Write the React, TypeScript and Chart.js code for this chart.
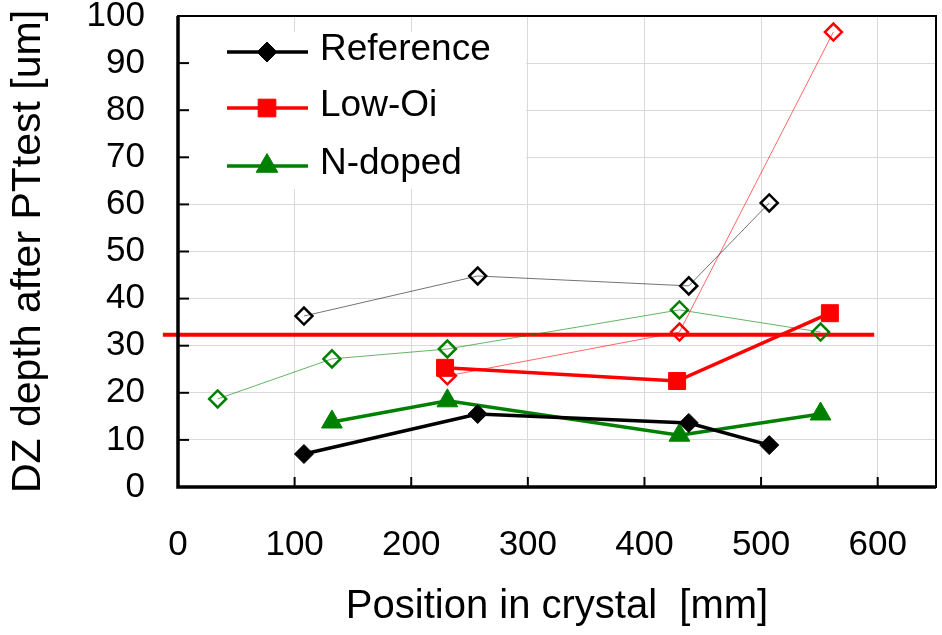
import React, { useEffect, useRef } from "react";
import { Chart, registerables } from "chart.js";

Chart.register(...registerables);

// ---- data ----
const refX = [108, 257, 438, 507];
const refY = [7.0, 15.5, 13.6, 8.9];
const refOpenX = [108, 257, 438, 507];
const refOpenY = [36.3, 44.8, 42.7, 60.3];
const lowOiX = [229, 428, 559];
const lowOiY = [25.3, 22.5, 36.9];
const lowOiOpenX = [231, 430, 562];
const lowOiOpenY = [23.6, 32.9, 96.6];
const nDopedX = [132, 231, 430, 551];
const nDopedY = [13.8, 18.3, 11.0, 15.5];
const nDopedOpenX = [34, 132, 231, 430, 551];
const nDopedOpenY = [18.7, 27.2, 29.3, 37.6, 32.9];
const limitX = [-13, 597];
const limitY = [32.3, 32.3];

const xTickValues = [0, 100, 200, 300, 400, 500, 600];
const yTickValues = [0, 10, 20, 30, 40, 50, 60, 70, 80, 90, 100];
const legendLabels = ["Reference", "Low-Oi", "N-doped"];
const xTitle = "Position in crystal  [mm]";
const yTitle = "DZ depth after PTtest [um]";

const BLACK = "#000000";
const RED = "#ff0000";
const GREEN = "#008000";
const FONT = "'Liberation Sans', Arial, sans-serif";

const pts = (xs: number[], ys: number[]) => xs.map((x, i) => ({ x, y: ys[i] }));

function drawMarker(ctx: CanvasRenderingContext2D, style: string, x: number, y: number, r: number, color: string) {
  ctx.save();
  ctx.fillStyle = color;
  ctx.strokeStyle = color;
  ctx.lineWidth = 1;
  ctx.beginPath();
  if (style === "diamond") {
    ctx.moveTo(x, y - r);
    ctx.lineTo(x + r, y);
    ctx.lineTo(x, y + r);
    ctx.lineTo(x - r, y);
    ctx.closePath();
  } else if (style === "square") {
    const s = Math.SQRT1_2 * r;
    ctx.rect(x - s, y - s, 2 * s, 2 * s);
  } else {
    const a = (2 * Math.PI) / 3;
    ctx.moveTo(x, y - r);
    ctx.lineTo(x + Math.sin(a) * r, y - Math.cos(a) * r);
    ctx.lineTo(x + Math.sin(2 * a) * r, y - Math.cos(2 * a) * r);
    ctx.closePath();
  }
  ctx.fill();
  ctx.stroke();
  ctx.restore();
}

const framePlugin = {
  id: "frame",
  afterDraw(chart: any) {
    const { ctx, chartArea, scales } = chart;
    const { left, right, top, bottom } = chartArea;
    const xs = scales.x;
    const ys = scales.y;
    ctx.save();

    // legend box (white, covering the grid)
    ctx.fillStyle = "#ffffff";
    ctx.fillRect(left + 2, top + 16, 346, 157);
    const rowsY = [52, 108, 166];
    const colors = [BLACK, RED, GREEN];
    const styles = ["diamond", "square", "triangle"];
    const sizes = [10, 12.5, 12.5];
    legendLabels.forEach((label, i) => {
      const ly = rowsY[i];
      ctx.strokeStyle = colors[i];
      ctx.lineWidth = 3.5;
      ctx.beginPath();
      ctx.moveTo(227, ly);
      ctx.lineTo(308, ly);
      ctx.stroke();
      drawMarker(ctx, styles[i], 267, ly, sizes[i], colors[i]);
      ctx.fillStyle = BLACK;
      ctx.font = `37px ${FONT}`;
      ctx.textAlign = "left";
      ctx.textBaseline = "middle";
      ctx.fillText(label, 320, ly - 2);
    });

    // inward tick marks
    ctx.strokeStyle = BLACK;
    ctx.lineWidth = 2;
    yTickValues.forEach((v) => {
      if (v <= 0 || v >= 100) return;
      const py = ys.getPixelForValue(v);
      ctx.beginPath();
      ctx.moveTo(left, py);
      ctx.lineTo(left + 11, py);
      ctx.stroke();
    });
    xTickValues.forEach((v) => {
      if (v <= 0) return;
      const px = xs.getPixelForValue(v);
      ctx.beginPath();
      ctx.moveTo(px, bottom);
      ctx.lineTo(px, bottom - 10);
      ctx.stroke();
    });

    // frame
    ctx.lineWidth = 2;
    ctx.strokeRect(left, top, right - left, bottom - top);
    ctx.lineWidth = 3.5;
    ctx.beginPath();
    ctx.moveTo(left, top);
    ctx.lineTo(left, bottom);
    ctx.lineTo(right, bottom);
    ctx.stroke();
    ctx.restore();
  },
};

export default function App() {
  const canvasRef = useRef<HTMLCanvasElement | null>(null);

  useEffect(() => {
    const canvas = canvasRef.current;
    if (!canvas) return;

    const thinOpen = (label: string, xs: number[], ys: number[], color: string, lineColor: string) => ({
      label,
      data: pts(xs, ys),
      borderColor: lineColor,
      borderWidth: 1,
      pointStyle: "rectRot",
      pointRadius: 8.5,
      pointBorderWidth: 2.5,
      pointBorderColor: color,
      pointBackgroundColor: "rgba(255,255,255,0)",
      showLine: true,
    });

    const chart = new Chart(canvas, {
      type: "scatter",
      data: {
        datasets: [
          {
            label: "Reference",
            data: pts(refX, refY),
            borderColor: BLACK,
            borderWidth: 3.5,
            pointStyle: "rectRot",
            pointRadius: 9.5,
            pointBorderWidth: 1,
            pointBorderColor: BLACK,
            pointBackgroundColor: BLACK,
            showLine: true,
          },
          {
            label: "Low-Oi",
            data: pts(lowOiX, lowOiY),
            borderColor: RED,
            borderWidth: 3.5,
            pointStyle: "rect",
            pointRadius: 12,
            pointBorderWidth: 1,
            pointBorderColor: RED,
            pointBackgroundColor: RED,
            showLine: true,
          },
          {
            label: "N-doped",
            data: pts(nDopedX, nDopedY),
            borderColor: GREEN,
            borderWidth: 3.5,
            pointStyle: "triangle",
            pointRadius: 12,
            pointBorderWidth: 1,
            pointBorderColor: GREEN,
            pointBackgroundColor: GREEN,
            showLine: true,
          },
          thinOpen("Reference (open)", refOpenX, refOpenY, BLACK, "rgba(0,0,0,0.55)"),
          thinOpen("Low-Oi (open)", lowOiOpenX, lowOiOpenY, RED, "rgba(255,0,0,0.6)"),
          thinOpen("N-doped (open)", nDopedOpenX, nDopedOpenY, GREEN, "rgba(0,128,0,0.6)"),
          {
            label: "Limit",
            data: pts(limitX, limitY),
            borderColor: RED,
            borderWidth: 4,
            pointRadius: 0,
            showLine: true,
            clip: false,
          },
        ] as any,
      },
      options: {
        responsive: false,
        animation: false,
        events: [],
        layout: { autoPadding: false, padding: { left: 0, top: 16, right: 6, bottom: 0 } },
        plugins: {
          legend: { display: false },
          tooltip: { enabled: false },
        },
        scales: {
          x: {
            type: "linear",
            min: 0,
            max: 650,
            afterBuildTicks: (s: any) => {
              s.ticks = xTickValues.map((v) => ({ value: v }));
            },
            afterFit: (s: any) => {
              s.height = 148;
              s.paddingLeft = 0;
              s.paddingRight = 0;
              s.paddingTop = 0;
              s.paddingBottom = 0;
            },
            grid: { color: "#d9d9d9", lineWidth: 1, drawTicks: false },
            border: { display: false },
            ticks: {
              color: BLACK,
              font: { family: FONT, size: 35 },
              padding: 37,
              maxRotation: 0,
              autoSkip: false,
            },
            title: {
              display: true,
              text: xTitle,
              color: BLACK,
              font: { family: FONT, size: 40 },
              padding: { top: 0, bottom: 4 },
            },
          },
          y: {
            type: "linear",
            min: 0,
            max: 100,
            afterBuildTicks: (s: any) => {
              s.ticks = yTickValues.map((v) => ({ value: v }));
            },
            afterFit: (s: any) => {
              s.width = 178;
              s.paddingLeft = 0;
              s.paddingRight = 0;
              s.paddingTop = 0;
              s.paddingBottom = 0;
            },
            grid: { color: "#d9d9d9", lineWidth: 1, drawTicks: false },
            border: { display: false },
            ticks: {
              color: BLACK,
              font: { family: FONT, size: 35 },
              padding: 33,
              autoSkip: false,
            },
            title: {
              display: true,
              text: yTitle,
              color: BLACK,
              font: { family: FONT, size: 41 },
              padding: { top: 4, bottom: 0 },
            },
          },
        },
      } as any,
      plugins: [framePlugin],
    });

    return () => chart.destroy();
  }, []);

  return (
    <div style={{ position: "fixed", left: 0, top: 0, width: 942, height: 635, background: "#fff" }}>
      <canvas ref={canvasRef} width={942} height={635} style={{ display: "block" }} />
    </div>
  );
}
